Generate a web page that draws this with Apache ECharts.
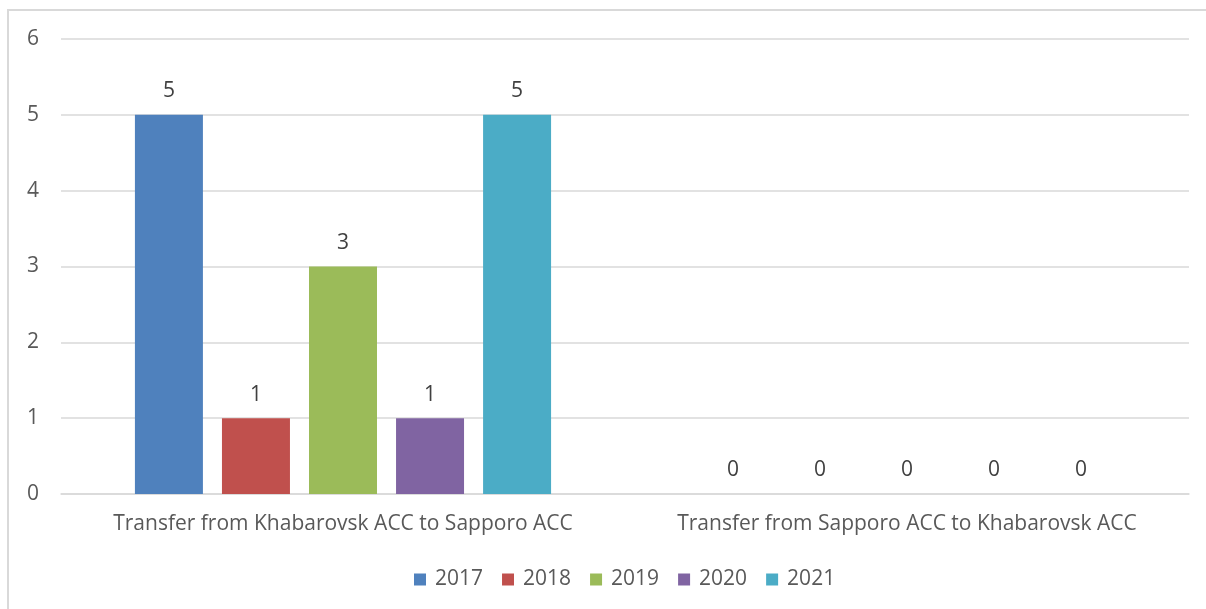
<!DOCTYPE html>
<html>
<head>
<meta charset="utf-8">
<style>
  html, body { margin: 0; padding: 0; background: #fff; }
  #chart { width: 1206px; height: 609px; }
</style>
<script src="https://cdn.jsdelivr.net/npm/echarts@6/dist/echarts.min.js"></script>
</head>
<body>
<div id="chart"></div>
<script>
// chart data
const categories = ['Transfer from Khabarovsk ACC to Sapporo ACC', 'Transfer from Sapporo ACC to Khabarovsk ACC'];
const years = ['2017', '2018', '2019', '2020', '2021'];
const values2017 = [5, 0];
const values2018 = [1, 0];
const values2019 = [3, 0];
const values2020 = [1, 0];
const values2021 = [5, 0];
const colors = ['#4f81bd', '#c0504d', '#9bbb59', '#8064a2', '#4bacc6'];

const allValues = [values2017, values2018, values2019, values2020, values2021];
const font = 'Open Sans';

const chart = echarts.init(document.getElementById('chart'));

chart.setOption({
    animation: false,
    textStyle: { fontFamily: font },
    graphic: [{
        type: 'rect',
        shape: { x: 8, y: 10, width: 1230, height: 640 },
        style: { fill: 'none', stroke: '#d9d9d9', lineWidth: 2 },
        silent: true
    }],
    grid: { left: 61, right: 17, top: 39, bottom: 115 },
    legend: {
        left: 409,
        bottom: 14,
        itemWidth: 12,
        itemHeight: 12,
        itemGap: 19,
        icon: 'rect',
        textStyle: { fontSize: 21, color: '#595959', fontFamily: font, padding: [0, 0, 0, 4] }
    },
    xAxis: {
        type: 'category',
        data: categories,
        axisTick: { show: false },
        axisLine: { lineStyle: { color: '#d9d9d9', width: 1.5 } },
        axisLabel: { interval: 0, fontSize: 21, color: '#595959', margin: 20, fontFamily: font }
    },
    yAxis: {
        type: 'value',
        min: 0,
        max: 6,
        interval: 1,
        axisLine: { show: false },
        axisTick: { show: false },
        splitLine: { lineStyle: { color: '#d9d9d9', width: 1.5 } },
        axisLabel: { fontSize: 21, color: '#595959', margin: 22, fontFamily: font }
    },
    series: years.map((y, i) => ({
        name: y,
        type: 'bar',
        data: allValues[i],
        barWidth: 68,
        barGap: '28%',
        itemStyle: { color: colors[i] },
        label: {
            show: true,
            position: 'top',
            distance: 13,
            fontSize: 21,
            color: '#404040',
            fontFamily: font
        }
    }))
});
</script>
</body>
</html>
